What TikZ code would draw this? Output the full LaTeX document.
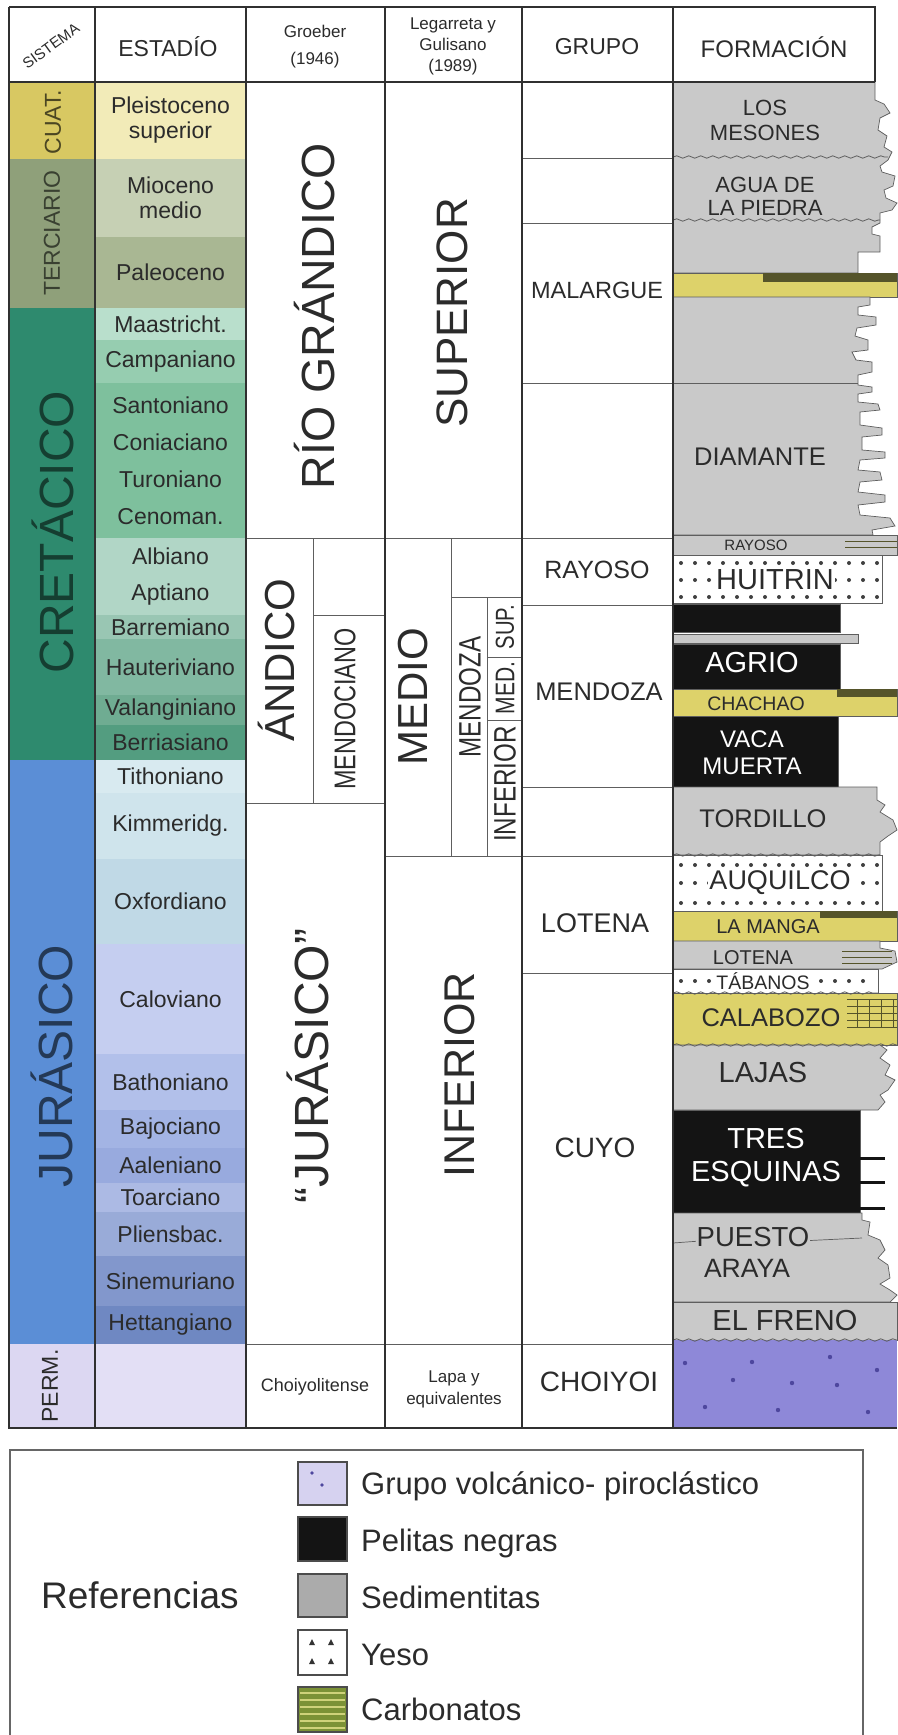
\documentclass[tikz,border=0pt]{standalone}
\usepackage{fontspec}
\setmainfont{Liberation Sans}
\newfontfamily\narrowfont[FakeStretch=0.78]{Liberation Sans}
\usetikzlibrary{decorations.pathmorphing}

\definecolor{rule}{HTML}{303030}
\definecolor{gridline}{HTML}{5E5E5E}
\definecolor{ink}{HTML}{2B2B2B}
\definecolor{cuat}{HTML}{D8C862}
\definecolor{terc}{HTML}{8FA07A}
\definecolor{cret}{HTML}{2E8A6E}
\definecolor{jur}{HTML}{5B8ED6}
\definecolor{perm}{HTML}{DCD7F2}
\definecolor{stPle}{HTML}{F2EBB8}
\definecolor{stMio}{HTML}{C6D0B4}
\definecolor{stPal}{HTML}{A9B793}
\definecolor{stMaa}{HTML}{B9DFCC}
\definecolor{stCam}{HTML}{96CDB0}
\definecolor{stSan}{HTML}{7EC09D}
\definecolor{stAlb}{HTML}{B1D6C6}
\definecolor{stBar}{HTML}{99C6B3}
\definecolor{stHau}{HTML}{81B8A1}
\definecolor{stVal}{HTML}{6FAC92}
\definecolor{stBer}{HTML}{539D80}
\definecolor{stTit}{HTML}{D8EAF0}
\definecolor{stKim}{HTML}{CFE4EC}
\definecolor{stOxf}{HTML}{C0D9E6}
\definecolor{stCal}{HTML}{C5CEF0}
\definecolor{stBat}{HTML}{B2C0EA}
\definecolor{stBaj}{HTML}{A3B4E4}
\definecolor{stAal}{HTML}{98AADE}
\definecolor{stToa}{HTML}{ACBAE4}
\definecolor{stPli}{HTML}{99ABD8}
\definecolor{stSin}{HTML}{8297CC}
\definecolor{stHet}{HTML}{6F88C2}
\definecolor{stPer}{HTML}{E3DFF5}
\definecolor{sed}{HTML}{C9C9C9}
\definecolor{pelita}{HTML}{141414}
\definecolor{carb}{HTML}{DDD26A}
\definecolor{carbdark}{HTML}{55542A}
\definecolor{volc}{HTML}{8E88D8}
\definecolor{volcdot}{HTML}{4E479E}
\definecolor{volclight}{HTML}{D6D2F0}
\definecolor{sedleg}{HTML}{ABABAB}
\definecolor{carbleg}{HTML}{7C9236}
\definecolor{carbpale}{HTML}{CFD27A}

\begin{document}
\begin{tikzpicture}[x=1pt, y=-1pt,
  colframe/.style={draw=rule, line width=2pt},
  rowline/.style={draw=gridline, line width=0.8pt},
  bed/.style={draw=gridline, line width=0.7pt},
  contact/.style={draw=gridline, line width=0.8pt, decorate,
    decoration={snake, amplitude=1.2pt, segment length=12pt}},
  carbline/.style={draw=carbdark, line width=0.6pt},
  yesodot/.style={fill=black!75},
  stage/.style={text=ink, align=center, inner sep=0pt,
    font=\fontsize{23}{25}\selectfont},
  headtxt/.style={text=ink, align=center, inner sep=0pt},
  sis/.style={rotate=90, inner sep=0pt, font=\fontsize{23}{25}\selectfont},
  big/.style={text=ink, rotate=90, inner sep=0pt},
  slim/.style={text=ink, rotate=90, inner sep=0pt},
  grp/.style={text=ink, inner sep=0pt},
  fm/.style={text=ink, align=center, inner sep=0pt},
  onyeso/.style={fm, fill=white, inner sep=1.5pt},
  onblack/.style={fm, text=white},
  swatch/.style={draw=black!70, line width=1.2pt},
  legtxt/.style={anchor=base west, text=ink, inner sep=0pt,
    font=\fontsize{31}{33}\selectfont}]
  \useasboundingbox (0,0) rectangle (897,1735);

  \foreach \ya/\yb/\col in {82/159/cuat, 159/308/terc, 308/760/cret,
      760/1344/jur, 1344/1428/perm}
    {
      \fill[\col] (9,\ya) rectangle (95,\yb);
      \draw[rowline] (9,\yb) -- (95,\yb);
    }

  \foreach \ya/\yb/\col/\txt [count=\i] in {
      82/159/stPle/{Pleistoceno\\superior},
      159/237/stMio/{Mioceno\\medio},
      237/308/stPal/{Paleoceno},
      308/340/stMaa/{Maastricht.},
      340/383/stCam/{Campaniano},
      383/538/stSan/{Santoniano\\[12pt]Coniaciano\\[12pt]Turoniano\\[12pt]Cenoman.},
      538/615/stAlb/{Albiano\\[11pt]Aptiano},
      615/639/stBar/{Barremiano},
      639/695/stHau/{Hauteriviano},
      695/725/stVal/{Valanginiano},
      725/760/stBer/{Berriasiano},
      760/793/stTit/{Tithoniano},
      793/859/stKim/{Kimmeridg.},
      859/944/stOxf/{Oxfordiano},
      944/1054/stCal/{Caloviano},
      1054/1110/stBat/{Bathoniano},
      1110/1148/stBaj/{Bajociano},
      1148/1183/stAal/{Aaleniano},
      1183/1212/stToa/{Toarciano},
      1212/1256/stPli/{Pliensbac.},
      1256/1306/stSin/{Sinemuriano},
      1306/1344/stHet/{Hettangiano},
      1344/1428/stPer/{}}
    {
      \fill[\col] (95,\ya) rectangle (246,\yb);
      \draw[rowline] (95,\yb) -- (246,\yb);
      \node[stage] (st\i) at (170.5,{(\ya+\yb)/2}) {\txt};
    }

  \filldraw[bed, fill=sed] (673,82) -- (875,82) -- (875,100) -- (884,104) -- (890,113)
    -- (880,118) -- (878,130) -- (887,136) -- (884,147) -- (892,152) -- (888,160)
    -- (880,166) -- (882,172) -- (895,176) -- (893,186) -- (884,190) -- (886,198)
    -- (897,203) -- (892,210) -- (880,213) -- (880,223) -- (872,227) -- (872,234)
    -- (880,236) -- (880,252) -- (858,252) -- (858,273) -- (673,273) -- cycle;
  \draw[contact] (673,157) -- (888,157);
  \draw[contact] (673,220) -- (880,220);
  \filldraw[bed, fill=carb] (673,273) rectangle (897,297);
  \fill[carbdark] (763,273) rectangle (897,282);
  \filldraw[bed, fill=sed] (673,297) -- (870,297) -- (870,305) -- (858,307) -- (858,315)
    -- (876,317) -- (876,325) -- (857,328) -- (855,336) -- (868,340) -- (868,350)
    -- (852,352) -- (856,360) -- (872,362) -- (872,372) -- (858,375) -- (858,385)
    -- (872,387) -- (872,392) -- (858,394) -- (858,402) -- (878,404) -- (880,410)
    -- (860,412) -- (860,425) -- (882,428) -- (882,435) -- (862,437) -- (862,450)
    -- (885,452) -- (885,458) -- (860,460) -- (858,470) -- (880,472) -- (882,480)
    -- (860,482) -- (858,492) -- (885,495) -- (885,502) -- (858,505) -- (860,515)
    -- (890,518) -- (895,526) -- (872,530) -- (873,535) -- (673,535) -- cycle;
  \draw[rowline] (673,383) -- (858,383);
  \filldraw[bed, fill=sed] (673,535) rectangle (897,555);
  \foreach \y in {541,547}
    \draw[carbline] (845,\y) -- (897,\y);
  \filldraw[bed, fill=white] (673,555) rectangle (882,603);
  \foreach \y in {563,580,597}
    \foreach \x in {681,695,...,877}
      \fill[yesodot] (\x,\y) circle (2);
  \filldraw[bed, fill=pelita] (673,604) rectangle (840,632);
  \filldraw[bed, fill=sed] (673,634) rectangle (858,643);
  \filldraw[bed, fill=pelita] (673,644) rectangle (840,689);
  \filldraw[bed, fill=carb] (673,689) rectangle (897,716);
  \fill[carbdark] (837,689) rectangle (897,697);
  \filldraw[bed, fill=pelita] (673,716) rectangle (838,787);
  \filldraw[bed, fill=sed] (673,787) -- (877,787) -- (877,800) -- (885,805) -- (880,812)
    -- (893,820) -- (897,830) -- (888,836) -- (880,842) -- (880,855) -- (673,855) -- cycle;
  \filldraw[bed, fill=white] (673,855) rectangle (882,911);
  \draw[contact] (673,855) -- (880,855);
  \foreach \y in {865,883,903}
    \foreach \x in {681,695,...,877}
      \fill[yesodot] (\x,\y) circle (2);
  \filldraw[bed, fill=carb] (673,911) rectangle (897,941);
  \fill[carbdark] (820,911) rectangle (897,918);
  \filldraw[bed, fill=sed] (673,941) -- (880,941) -- (880,948) -- (895,951) -- (897,962)
    -- (882,969) -- (673,969) -- cycle;
  \foreach \y in {951,957,963}
    \draw[carbline] (842,\y) -- (892,\y);
  \filldraw[bed, fill=white] (673,969) rectangle (878,993);
  \foreach \x in {681,695,...,873}
    \fill[yesodot] (\x,981) circle (2);
  \filldraw[bed, fill=carb] (673,993) rectangle (897,1045);
  \draw[contact] (673,993) -- (878,993);
  \foreach \y in {999,1006,...,1027}
    \draw[carbline] (847,\y) -- (897,\y);
  \foreach \x in {857,869,881,893}
    \draw[carbline] (\x,999) -- (\x,1027);
  \filldraw[bed, fill=sed] (673,1045) -- (880,1045) -- (887,1050) -- (880,1058) -- (890,1065)
    -- (885,1075) -- (895,1080) -- (888,1090) -- (880,1095) -- (885,1102) -- (878,1110)
    -- (673,1110) -- cycle;
  \draw[contact] (673,1045) -- (897,1045);
  \filldraw[bed, fill=pelita] (673,1110) rectangle (860,1213);
  \foreach \y in {1158,1182,1208}
    \draw[pelita, line width=3pt] (860,\y) -- (885,\y);
  \filldraw[bed, fill=sed] (673,1213) -- (862,1213) -- (862,1220) -- (870,1222) -- (868,1235)
    -- (880,1240) -- (885,1250) -- (878,1258) -- (888,1265) -- (890,1278) -- (880,1284)
    -- (890,1290) -- (897,1295) -- (890,1302) -- (673,1302) -- cycle;
  \draw[bed] (673,1243) -- (700,1241) -- (760,1243) -- (820,1240) -- (862,1238);
  \filldraw[bed, fill=sed] (673,1302) rectangle (897,1340);
  \fill[volc] (673,1340) rectangle (897,1428);
  \draw[contact] (673,1340) -- (897,1340);
  \foreach \x/\y in {685/1363, 752/1362, 830/1357, 877/1370, 733/1380, 792/1383,
      837/1385, 705/1407, 778/1410, 868/1412}
    \fill[volcdot] (\x,\y) circle (2.2);

  \foreach \y in {158,223,383,538,605,787,856,973,1344}
    \draw[rowline] (522,\y) -- (673,\y);
  \draw[rowline] (246,538) -- (522,538);
  \draw[rowline] (313,538) -- (313,803);
  \draw[rowline] (313,615) -- (385,615);
  \draw[rowline] (246,803) -- (385,803);
  \draw[rowline] (451,538) -- (451,856);
  \draw[rowline] (451,597) -- (522,597);
  \draw[rowline] (487,597) -- (487,856);
  \draw[rowline] (487,657) -- (522,657);
  \draw[rowline] (487,720) -- (522,720);
  \draw[rowline] (385,856) -- (522,856);
  \draw[rowline] (246,1344) -- (522,1344);

  \draw[colframe] (9,7) -- (875,7) -- (875,82);
  \draw[colframe] (9,82) -- (875,82);
  \draw[colframe] (9,7) -- (9,1428) -- (897,1428);
  \foreach \x in {95,246,385,522,673}
    \draw[colframe] (\x,7) -- (\x,1428);

  \node[headtxt, rotate=36, font=\fontsize{15}{17}\selectfont] (sistema) at (51,46) {SISTEMA};
  \node[headtxt, font=\fontsize{23}{25}\selectfont] (estadio) at (168,47) {ESTADÍO};
  \node[headtxt, font=\fontsize{17}{27}\selectfont] (groeber) at (315,47) {Groeber\\(1946)};
  \node[headtxt, font=\fontsize{17}{21}\selectfont] (legarreta) at (453,46) {Legarreta y\\Gulisano\\(1989)};
  \node[headtxt, font=\fontsize{23}{25}\selectfont] (grupo) at (597,47) {GRUPO};
  \node[headtxt, font=\fontsize{24}{26}\selectfont] (formacion) at (774,47) {FORMACIÓN};

  \node[sis, text=cuat!35!black] (cuatl) at (53,122) {CUAT.};
  \node[sis, text=terc!40!black] (tercl) at (52,233) {TERCIARIO};
  \node[big, text=cret!45!black, font=\fontsize{48}{50}\selectfont] (cretl) at (53,532) {CRETÁCICO};
  \node[big, text=jur!40!black, font=\fontsize{48}{50}\selectfont] (jurl) at (52,1066) {JURÁSICO};
  \node[sis, text=ink] (perml) at (50,1386) {PERM.};

  \node[big, font=\fontsize{46.5}{50}\selectfont] (riogrande) at (315,316) {RÍO GRÁNDICO};
  \node[big, font=\fontsize{42}{45}\selectfont] (andico) at (276,660) {ÁNDICO};
  \node[slim, font=\narrowfont\fontsize{30}{32}\selectfont] (mendociano) at (345,709) {MENDOCIANO};
  \node[big, font=\fontsize{48}{50}\selectfont] (jurasico) at (308,1066) {“JURÁSICO”};
  \node[headtxt, font=\fontsize{18}{20}\selectfont] (choiyolitense) at (315,1387) {Choiyolitense};

  \node[big, font=\fontsize{44}{46}\selectfont] (superior) at (452,313) {SUPERIOR};
  \node[big, font=\fontsize{42}{45}\selectfont] (medio) at (413,697) {MEDIO};
  \node[slim, font=\narrowfont\fontsize{31}{33}\selectfont] (mendozasub) at (470,697) {MENDOZA};
  \node[slim, font=\narrowfont\fontsize{26}{28}\selectfont] (supsub) at (505,627) {SUP.};
  \node[slim, font=\narrowfont\fontsize{27}{29}\selectfont] (medsub) at (505,688) {MED.};
  \node[slim, font=\narrowfont\fontsize{31}{33}\selectfont] (infsub) at (505,784) {INFERIOR};
  \node[big, font=\fontsize{43}{45}\selectfont] (inferior) at (460,1075) {INFERIOR};
  \node[headtxt, font=\fontsize{17}{22}\selectfont] (lapa) at (454,1389) {Lapa y\\equivalentes};

  \node[grp, font=\fontsize{23.5}{25}\selectfont] (malargue) at (597,290) {MALARGUE};
  \node[grp, font=\fontsize{25}{27}\selectfont] (rayosogr) at (597,570) {RAYOSO};
  \node[grp, font=\fontsize{25.5}{27}\selectfont] (mendozagr) at (599,692) {MENDOZA};
  \node[grp, font=\fontsize{27}{29}\selectfont] (lotenagr) at (595,923) {LOTENA};
  \node[grp, font=\fontsize{28}{30}\selectfont] (cuyo) at (595,1148) {CUYO};
  \node[grp, font=\fontsize{28}{30}\selectfont] (choiyoi) at (599,1382) {CHOIYOI};

  \node[fm, font=\fontsize{22}{25}\selectfont] (mesones) at (765,120) {LOS\\MESONES};
  \node[fm, font=\fontsize{22}{23}\selectfont] (aguapiedra) at (765,196) {AGUA DE\\LA PIEDRA};
  \node[fm, font=\fontsize{25.5}{27}\selectfont] (diamante) at (760,457) {DIAMANTE};
  \node[fm, font=\fontsize{15}{17}\selectfont] (rayosofm) at (756,545) {RAYOSO};
  \node[onyeso, font=\fontsize{29}{31}\selectfont] (huitrin) at (775,580) {HUITRIN};
  \node[onblack, font=\fontsize{29}{31}\selectfont] (agrio) at (752,663) {AGRIO};
  \node[fm, font=\fontsize{19.5}{21}\selectfont] (chachao) at (756,704) {CHACHAO};
  \node[onblack, font=\fontsize{24}{27}\selectfont] (vacamuerta) at (752,753) {VACA\\MUERTA};
  \node[fm, font=\fontsize{25.5}{27}\selectfont] (tordillo) at (763,819) {TORDILLO};
  \node[onyeso, font=\fontsize{27}{29}\selectfont] (auquilco) at (780,883) {AUQUILCO};
  \node[fm, font=\fontsize{20}{22}\selectfont] (lamanga) at (768,927) {LA MANGA};
  \node[fm, font=\fontsize{20}{22}\selectfont] (lotenafm) at (753,958) {LOTENA};
  \node[onyeso, font=\fontsize{19.5}{21}\selectfont] (tabanos) at (763,981) {TÁBANOS};
  \node[fm, font=\fontsize{25.5}{27}\selectfont] (calabozo) at (771,1018) {CALABOZO};
  \node[fm, font=\fontsize{29}{31}\selectfont] (lajas) at (763,1073) {LAJAS};
  \node[onblack, font=\fontsize{29}{33}\selectfont] (tresesquinas) at (766,1158) {TRES\\ESQUINAS};
  \node[fm, fill=sed, inner sep=1pt, font=\fontsize{27.5}{29}\selectfont] (puesto) at (753,1237) {PUESTO};
  \node[fm, font=\fontsize{26.5}{28}\selectfont] (araya) at (747,1268) {ARAYA};
  \node[fm, font=\fontsize{29}{31}\selectfont] (elfreno) at (785,1320) {EL FRENO};

  \draw[draw=black!60, line width=1.6pt] (10,1750) -- (10,1450) -- (863,1450) -- (863,1750);
  \node[anchor=base west, inner sep=0pt, text=ink, font=\fontsize{37}{40}\selectfont] (referencias) at (41,1608) {Referencias};
  \filldraw[swatch, fill=volclight] (298,1462) rectangle (347,1505);
  \fill[volcdot] (312,1473) circle (1.8);
  \fill[volcdot] (322,1485) circle (1.8);
  \filldraw[swatch, fill=pelita] (298,1517) rectangle (347,1561);
  \filldraw[swatch, fill=sedleg] (298,1574) rectangle (347,1617);
  \filldraw[swatch, fill=white] (298,1630) rectangle (347,1675);
  \foreach \x/\y in {312/1639, 331/1639, 312/1658, 331/1658}
    \fill[black!80] (\x,\y) -- ++(-3,6) -- ++(6,0) -- cycle;
  \filldraw[swatch, fill=carbleg] (298,1687) rectangle (347,1732);
  \foreach \y in {1693,1700,...,1728}
    \draw[carbpale, line width=1.2pt] (300,\y) -- (345,\y);
  \node[legtxt] (volcanico) at (361,1494) {Grupo volcánico- piroclástico};
  \node[legtxt] (pelitas) at (361,1551) {Pelitas negras};
  \node[legtxt] (sedimentitas) at (361,1608) {Sedimentitas};
  \node[legtxt] (yeso) at (361,1665) {Yeso};
  \node[legtxt] (carbonatos) at (361,1720) {Carbonatos};
\end{tikzpicture}
\end{document}
